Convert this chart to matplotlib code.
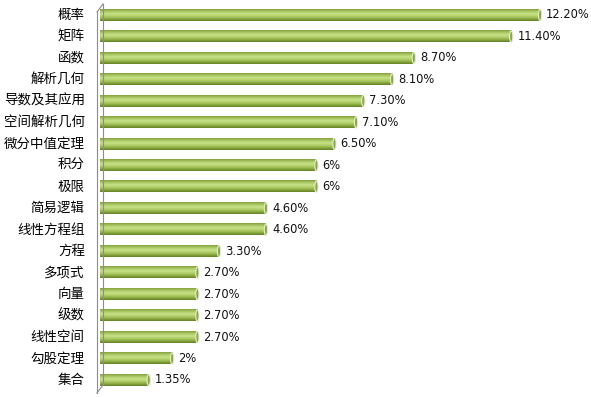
import matplotlib.pyplot as plt
import numpy as np
from matplotlib.colors import LinearSegmentedColormap
from matplotlib.patches import Ellipse

plt.rcParams['font.family'] = ['Noto Sans CJK SC', 'DejaVu Sans']

categories = ["概率", "矩阵", "函数", "解析几何", "导数及其应用", "空间解析几何",
              "微分中值定理", "积分", "极限", "简易逻辑", "线性方程组", "方程",
              "多项式", "向量", "级数", "线性空间", "勾股定理", "集合"]
values = [12.20, 11.40, 8.70, 8.10, 7.30, 7.10, 6.50, 6, 6, 4.60, 4.60, 3.30,
          2.70, 2.70, 2.70, 2.70, 2, 1.35]
value_labels = ["12.20%", "11.40%", "8.70%", "8.10%", "7.30%", "7.10%", "6.50%",
                "6%", "6%", "4.60%", "4.60%", "3.30%", "2.70%", "2.70%", "2.70%",
                "2.70%", "2%", "1.35%"]

W, H = 591, 397
fig = plt.figure(figsize=(W / 100, H / 100), dpi=100)
ax = fig.add_axes([100 / W, 0, 490 / W, 1])
ax.set_xlim(0, 490 / 36.07)
ax.set_ylim((H - 15) / 21.47, -15 / 21.47)
ax.axis("off")

# cylinder shading, top -> bottom
shade = LinearSegmentedColormap.from_list(
    "cyl", ["#819f3e", "#acc964", "#c9e28a", "#b2cf6a", "#8eae44", "#627f24"])
grad = np.linspace(0, 1, 64).reshape(-1, 1)

y = np.arange(len(categories))
h = 0.53
bars = ax.barh(y, values, height=h, color="none")
for bar, lab, txt in zip(bars, categories, value_labels):
    x0, yc, w = bar.get_x(), bar.get_y() + h / 2, bar.get_width()
    ax.imshow(grad, cmap=shade, aspect="auto", interpolation="bicubic",
              extent=(x0, x0 + w, yc + h / 2, yc - h / 2), zorder=2)
    ax.add_patch(Ellipse((x0 + w, yc), 0.09, h, facecolor="#8aa845",
                         edgecolor="#e4efc8", lw=0.8, zorder=3))
    ax.text(x0 + w + 0.17, yc, txt, va="center", ha="left", fontsize=8.3,
            color="#111111", family=["DejaVu Sans"])
    ax.text(-0.42, yc, lab, va="center", ha="right", fontsize=9.7, color="#000000")

# thin 3D wall on the left
px = lambda x, yy: fig.transFigure.inverted().transform((x, H - yy))
for (xa, ya), (xb, yb) in [((97, 12), (97, 393)), ((103, 4), (103, 385)),
                           ((97, 12), (103, 4)), ((97, 393), (103, 385))]:
    p, q = px(xa, ya), px(xb, yb)
    fig.add_artist(plt.Line2D([p[0], q[0]], [p[1], q[1]], color="#8c8c8c", lw=0.8))

fig.savefig("out.png", dpi=100)
